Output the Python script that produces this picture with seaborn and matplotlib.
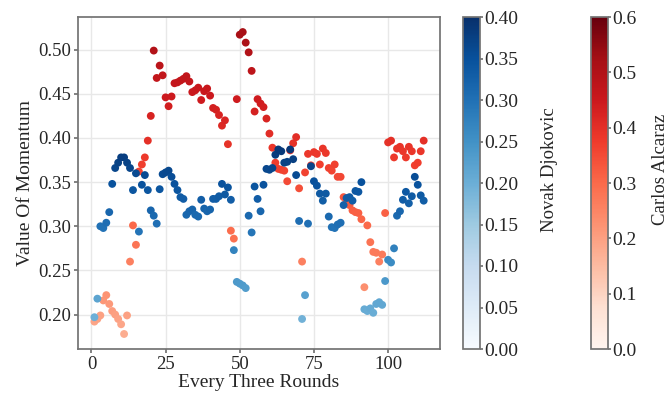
import numpy as np
import pandas as pd
import seaborn as sns
import matplotlib.pyplot as plt
from matplotlib.colors import Normalize
from matplotlib.cm import ScalarMappable

# every three rounds of the match
rounds = np.arange(1, 113)

djokovic = [0.197, 0.218, 0.300, 0.298, 0.304, 0.316, 0.348, 0.366, 0.372, 0.378,
            0.378, 0.372, 0.366, 0.341, 0.360, 0.294, 0.347, 0.358, 0.341, 0.318,
            0.312, 0.303, 0.342, 0.359, 0.361, 0.363, 0.356, 0.348, 0.341, 0.333,
            0.331, 0.313, 0.317, 0.319, 0.313, 0.311, 0.330, 0.320, 0.317, 0.319,
            0.331, 0.331, 0.334, 0.348, 0.336, 0.344, 0.330, 0.273, 0.237, 0.235,
            0.233, 0.230, 0.312, 0.293, 0.345, 0.331, 0.317, 0.347, 0.365, 0.364,
            0.366, 0.381, 0.387, 0.385, 0.372, 0.373, 0.387, 0.376, 0.358, 0.306,
            0.195, 0.222, 0.303, 0.368, 0.351, 0.346, 0.337, 0.329, 0.337, 0.311,
            0.299, 0.298, 0.302, 0.304, 0.324, 0.332, 0.333, 0.329, 0.340, 0.339,
            0.350, 0.206, 0.204, 0.207, 0.202, 0.212, 0.214, 0.211, 0.238, 0.262,
            0.259, 0.275, 0.312, 0.317, 0.330, 0.339, 0.326, 0.334, 0.356, 0.347,
            0.335, 0.329]

alcaraz = [0.192, 0.195, 0.199, 0.216, 0.222, 0.212, 0.204, 0.200, 0.195, 0.189,
           0.178, 0.199, 0.260, 0.301, 0.279, 0.362, 0.370, 0.378, 0.397, 0.425,
           0.499, 0.468, 0.482, 0.471, 0.446, 0.436, 0.447, 0.462, 0.463, 0.465,
           0.467, 0.470, 0.464, 0.452, 0.454, 0.457, 0.443, 0.453, 0.456, 0.448,
           0.434, 0.432, 0.426, 0.414, 0.420, 0.393, 0.295, 0.286, 0.444, 0.517,
           0.520, 0.508, 0.497, 0.476, 0.430, 0.444, 0.439, 0.435, 0.422, 0.405,
           0.389, 0.372, 0.365, 0.364, 0.363, 0.351, 0.386, 0.394, 0.401, 0.343,
           0.260, 0.361, 0.382, 0.369, 0.384, 0.382, 0.370, 0.388, 0.383, 0.366,
           0.363, 0.370, 0.356, 0.356, 0.333, 0.328, 0.324, 0.318, 0.316, 0.315,
           0.308, 0.231, 0.301, 0.282, 0.271, 0.270, 0.260, 0.268, 0.315, 0.395,
           0.397, 0.378, 0.388, 0.390, 0.385, 0.378, 0.390, 0.385, 0.369, 0.372,
           0.385, 0.397]

df = pd.DataFrame({'round': rounds, 'djokovic': djokovic, 'alcaraz': alcaraz})

sns.set_theme(style="whitegrid")
plt.rcParams['font.family'] = ['Liberation Serif', 'DejaVu Serif']
plt.rcParams['axes.edgecolor'] = '0.45'
plt.rcParams['grid.color'] = '0.91'
plt.rcParams['xtick.bottom'] = True
plt.rcParams['ytick.left'] = True

fig = plt.figure(figsize=(6.72, 3.94), dpi=100)
ax = fig.add_axes([0.116, 0.114, 0.539, 0.843])

sns.scatterplot(data=df, x='round', y='alcaraz', hue='alcaraz', palette='Reds',
                hue_norm=(0, 0.6), s=32, linewidth=0, legend=False, ax=ax)
sns.scatterplot(data=df, x='round', y='djokovic', hue='djokovic', palette='Blues',
                hue_norm=(0, 0.4), s=32, linewidth=0, legend=False, ax=ax)

ax.set_xticks([0, 25, 50, 75, 100])
ax.set_yticks([0.20, 0.25, 0.30, 0.35, 0.40, 0.45, 0.50])
ax.set_xlabel('Every Three Rounds', fontsize=14, labelpad=1)
ax.set_ylabel('Value Of Momentum', fontsize=14, labelpad=3)
ax.tick_params(labelsize=13.5, length=3, color='0.45', pad=2)

# colorbars for the two players
cax1 = fig.add_axes([463 / 672, 45 / 394, 17 / 672, 332 / 394])
cb1 = fig.colorbar(ScalarMappable(norm=Normalize(0, 0.4), cmap='Blues'), cax=cax1)
cb1.set_ticks([0.0, 0.05, 0.10, 0.15, 0.20, 0.25, 0.30, 0.35, 0.40])
cb1.ax.tick_params(labelsize=14, length=2, pad=1, color='0.45')
cb1.outline.set_edgecolor('0.45')
cb1.ax.set_ylabel('Novak Djokovic', fontsize=13.5, labelpad=16, y=0.54)

cax2 = fig.add_axes([591 / 672, 45 / 394, 17 / 672, 332 / 394])
cb2 = fig.colorbar(ScalarMappable(norm=Normalize(0, 0.6), cmap='Reds'), cax=cax2)
cb2.set_ticks([0.0, 0.1, 0.2, 0.3, 0.4, 0.5, 0.6])
cb2.ax.tick_params(labelsize=14, length=2, pad=1, color='0.45')
cb2.outline.set_edgecolor('0.45')
cb2.ax.set_ylabel('Carlos Alcaraz', fontsize=13.5, labelpad=11, y=0.54)

fig.savefig('out.png', dpi=100)
